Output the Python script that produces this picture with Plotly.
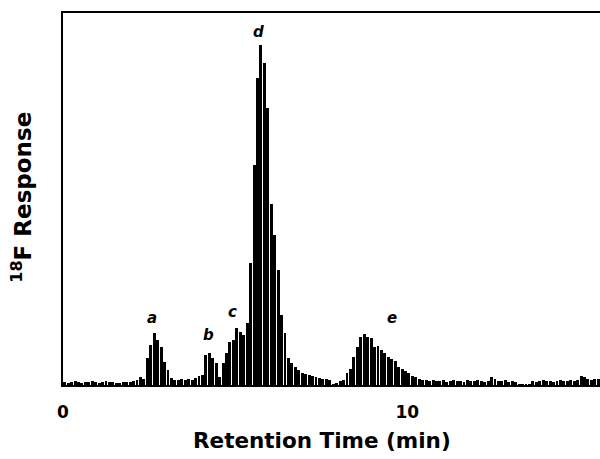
import plotly.graph_objects as go

# Retention time bin centres (min) and 18F response (arbitrary units)
times = [round(0.05 + 0.1 * k, 2) for k in range(156)]
response = [
    3, 2, 3, 4, 3, 2, 3, 3, 4, 3, 2, 3, 4, 3, 3, 2,
    2, 3, 3, 3, 4, 5, 8, 6,
    27, 40, 52, 45, 38, 23, 15, 7,
    5, 5, 6, 5, 6, 5, 7, 9, 10,
    30, 32, 27, 22, 8,
    22, 32, 43, 45, 57, 53, 50, 62,
    122, 220, 307, 340, 322, 277, 181, 150, 115, 70, 52,
    27, 22, 18, 15, 12, 11, 10, 9, 8, 7, 6, 6, 5, 1, 2, 4,
    5, 12, 16, 28, 38, 48, 51, 48, 47, 38, 39, 35, 32, 28, 26, 24, 18, 16, 14, 12, 9, 8, 6, 5,
    5, 4, 5, 4, 4, 5, 3, 4, 5, 4, 4, 3, 5, 4, 4, 5, 4, 3, 4,
    8, 6,
    4, 4, 5, 3, 4, 3,
    1, 1, 1, 1,
    4, 3, 4, 5, 4, 4, 3, 4, 5, 4, 4, 5, 4, 5,
    9, 8,
    6, 5, 6, 6,
]

peak_labels = ["a", "b", "c", "d", "e"]
peak_x = [2.59, 4.22, 4.91, 5.67, 9.56]
peak_y = [67, 50, 73, 353, 67]

tick_vals = [0, 10]
tick_text = ["0", "10"]

FONT = "DejaVu Sans, Liberation Sans, Arial, sans-serif"

fig = go.Figure()
fig.add_trace(go.Bar(
    x=times, y=response, width=0.085,
    marker=dict(color="black", line=dict(width=0)),
    showlegend=False,
))

for lab, px, py in zip(peak_labels, peak_x, peak_y):
    fig.add_annotation(
        x=px, y=py, text=f"<i>{lab}</i>", showarrow=False,
        font=dict(family=FONT, size=15, color="black", weight="bold"),
        xanchor="center", yanchor="middle",
    )

fig.add_annotation(
    x=0.482, y=-0.148, xref="paper", yref="paper",
    text="Retention Time (min)", showarrow=False,
    font=dict(family=FONT, size=21.5, color="black", weight="bold"),
    xanchor="center", yanchor="middle",
)
fig.add_annotation(
    x=-0.077, y=0.505, xref="paper", yref="paper",
    text="<sup>18</sup>F Response", showarrow=False, textangle=-90,
    font=dict(family=FONT, size=23, color="black", weight="bold"),
    xanchor="center", yanchor="middle",
)

fig.update_layout(
    width=600, height=459,
    margin=dict(l=63, r=0, t=13, b=74),
    plot_bgcolor="white", paper_bgcolor="white",
    bargap=0,
    xaxis=dict(
        range=[0, 15.6], tickvals=tick_vals, ticktext=tick_text,
        showline=True, linecolor="black", linewidth=2, mirror=True,
        showgrid=False, zeroline=False,
        ticks="outside", ticklen=11, tickcolor="rgba(0,0,0,0)",
        tickfont=dict(family=FONT, size=17, color="black", weight="bold"),
    ),
    yaxis=dict(
        range=[0, 372], showticklabels=False,
        showline=True, linecolor="black", linewidth=2, mirror=False,
        showgrid=False, zeroline=False, ticks="",
    ),
)

fig.write_html("out.html", config={"displayModeBar": False},
               post_script="document.body.style.margin='0';")
